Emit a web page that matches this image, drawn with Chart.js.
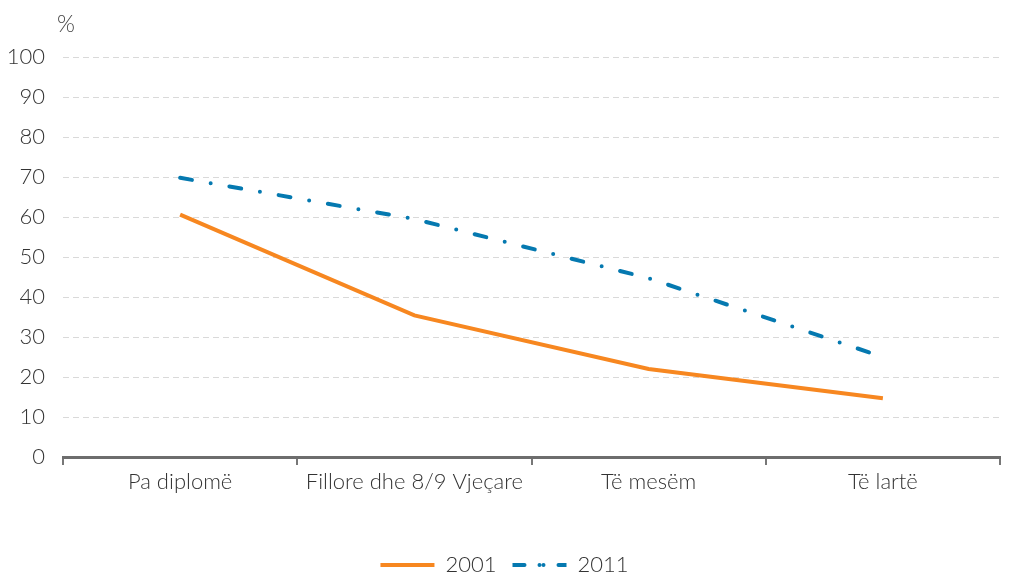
<!DOCTYPE html>
<html>
<head>
<meta charset="utf-8">
<script src="https://cdn.jsdelivr.net/npm/chart.js@4"></script>
<style>
  body { margin: 0; background: #fff; }
  #wrap { position: relative; width: 1026px; height: 576px; }
  #unit { position: absolute; left: 57px; top: 9px; font: 300 23px Lato, sans-serif; color: #444; }
</style>
</head>
<body>
<div id="wrap">
  <canvas id="chart" width="1026" height="576"></canvas>
  <div id="unit">%</div>
</div>
<script>
// të dhënat
const categories = ["Pa diplomë", "Fillore dhe 8/9 Vjeçare", "Të mesëm", "Të lartë"]
const values2001 = [60.6, 35.4, 22.0, 14.7]
const values2011 = [69.8, 59.5, 44.7, 25.0]
const yTicks = [0, 10, 20, 30, 40, 50, 60, 70, 80, 90, 100]

const font = { family: "Lato, sans-serif", size: 22, weight: 300 }

new Chart(document.getElementById("chart"), {
    type: "line",
    data: {
        labels: categories,
        datasets: [{
            label: "2001",
            data: values2001,
            borderColor: "rgb(247, 135, 32)",
            backgroundColor: "rgb(247, 135, 32)",
            borderWidth: 4,
            pointRadius: 0,
            tension: 0,
            fill: false
        }, {
            label: "2011",
            data: values2011,
            borderColor: "rgb(5, 121, 176)",
            backgroundColor: "rgb(5, 121, 176)",
            borderWidth: 4,
            borderDash: [12, 19, 0, 19],
            borderCapStyle: "round",
            pointRadius: 0,
            tension: 0,
            fill: false
        }]
    },
    options: {
        responsive: false,
        animation: false,
        layout: { padding: { left: 9, right: 26, top: 57, bottom: -10 } },
        plugins: {
            legend: {
                position: "bottom",
                labels: {
                    font: font,
                    color: "#333",
                    boxWidth: 54,
                    boxHeight: 0,
                    padding: 16
                }
            },
            tooltip: { enabled: false }
        },
        scales: {
            x: {
                offset: true,
                afterFit: axis => { axis.height = 81 },
                grid: { display: true, offset: true, drawOnChartArea: false, drawTicks: true, tickLength: 8, color: "#777", lineWidth: 2 },
                border: { display: true, color: "#6d6d6d", width: 3 },
                ticks: { font: font, color: "#333", padding: 4 }
            },
            y: {
                min: 0,
                max: 100,
                afterFit: axis => { axis.width = 54 },
                afterBuildTicks: axis => { axis.ticks = yTicks.map(v => ({ value: v })) },
                grid: { color: "#d9d9d9", lineWidth: 1, drawTicks: false },
                border: { display: false, dash: [6, 4] },
                ticks: { font: font, color: "#333", padding: 18 }
            }
        }
    }
})
</script>
</body>
</html>
